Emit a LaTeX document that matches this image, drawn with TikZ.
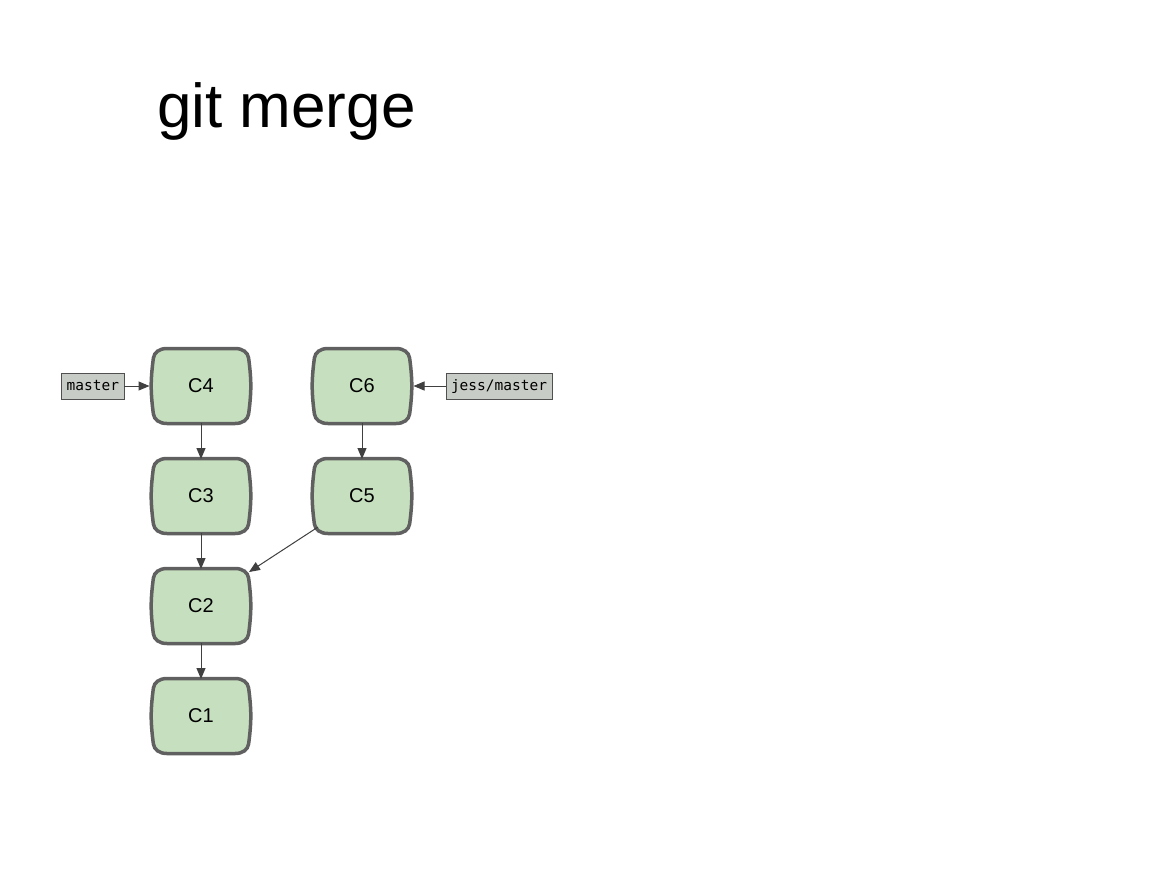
\documentclass[tikz,border=0pt]{standalone}
\usepackage{fontspec}
\setmainfont{Liberation Sans}
\newfontfamily\labfont{DejaVu Sans Mono}
\usetikzlibrary{arrows.meta,calc}
\definecolor{cfill}{HTML}{C6E0BF}
\definecolor{cline}{HTML}{606060}
\definecolor{lfill}{HTML}{C8CCC6}
\definecolor{lline}{HTML}{505050}
\definecolor{aline}{HTML}{404040}
\tikzset{
  commit/.style={minimum width=101pt, minimum height=78pt, inner sep=0pt, outer sep=0pt,
    font=\fontsize{20}{24}\selectfont},
  reflabel/.style={draw=lline, fill=lfill, line width=0.8pt, minimum height=26pt, inner sep=0pt,
    inner xsep=5pt, outer sep=0pt, font=\labfont\fontsize{14.5}{16}\selectfont},
  arr/.style={draw=aline, line width=1pt, -{Triangle[length=11pt,width=9pt]}},
  cshape/.style={draw=cline, fill=cfill, line width=3.5pt},
}
\newcommand{\commitshape}[1]{%
  \path[cshape, shift={(#1.center)}] (-34,-37.5) -- (34,-37.5)
    .. controls (42,-37.5) and (46.8,-33.5) .. (47.6,-28)
    .. controls (48.8,-19) and (49.8,-9.5) .. (49.8,0)
    .. controls (49.8,9.5) and (48.8,19) .. (47.6,28)
    .. controls (46.8,33.5) and (42,37.5) .. (34,37.5)
    -- (-34,37.5)
    .. controls (-42,37.5) and (-46.8,33.5) .. (-47.6,28)
    .. controls (-48.8,19) and (-49.8,9.5) .. (-49.8,0)
    .. controls (-49.8,-9.5) and (-48.8,-19) .. (-47.6,-28)
    .. controls (-46.8,-33.5) and (-42,-37.5) .. (-34,-37.5) -- cycle;}
\begin{document}
\begin{tikzpicture}[x=1pt,y=-1pt]
\useasboundingbox[fill=white] (0,0) rectangle (1166,873);
\node[anchor=base west, inner sep=0pt, font=\fontsize{62}{70}\selectfont] (title) at (157,127) {git merge};
\foreach \n/\x/\y in {c4/201/386, c6/362/386, c3/201/496, c5/362/496, c2/201/606, c1/201/716}{
  \node[commit] (\n) at (\x,\y) {};
  \commitshape{\n}
}
\node[commit] at (c4) {C4};
\node[commit] at (c6) {C6};
\node[commit] at (c3) {C3};
\node[commit] at (c5) {C5};
\node[commit] at (c2) {C2};
\node[commit] at (c1) {C1};
\node[reflabel, anchor=east] (master) at (124,386) {master};
\node[reflabel, anchor=west] (jess) at (446,386) {jess/master};
\draw[arr] (master.east) -- ([xshift=-1pt]c4.west);
\draw[arr] (jess.west) -- ([xshift=1pt]c6.east);
\draw[arr] ([yshift=2pt]c4.south) -- ([yshift=-2pt]c3.north);
\draw[arr] ([yshift=2pt]c6.south) -- ([yshift=-2pt]c5.north);
\draw[arr] ([yshift=2pt]c3.south) -- ([yshift=-2pt]c2.north);
\draw[arr] ([yshift=2pt]c2.south) -- ([yshift=-2pt]c1.north);
\draw[arr] ([shift={(6.5,-8)}]c5.south west) -- ([shift={(-2.5,5)}]c2.north east);
\end{tikzpicture}
\end{document}
